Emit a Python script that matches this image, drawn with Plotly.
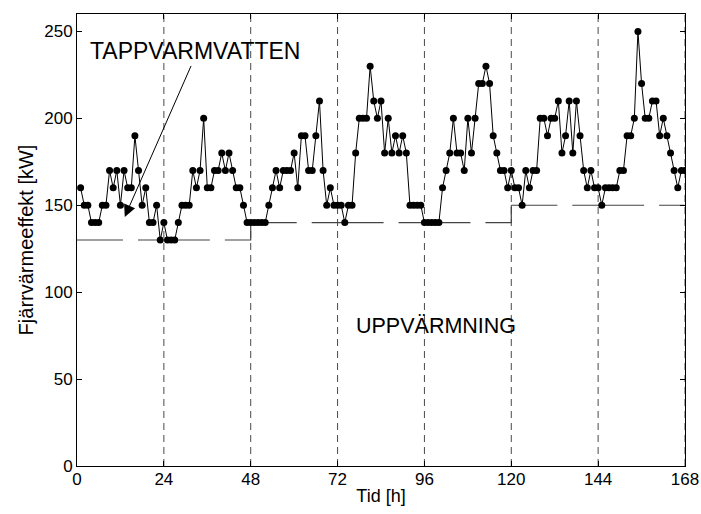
import plotly.graph_objects as go

# hourly district-heating power, hours 1..168
hours = list(range(1, 169))
power_kw = [
    160, 150, 150, 140, 140, 140, 150, 150, 170, 160, 170, 150, 170, 160, 160, 190,
    170, 150, 160, 140, 140, 150, 130, 140, 130, 130, 130, 140, 150, 150, 150, 170,
    160, 170, 200, 160, 160, 170, 170, 180, 170, 180, 170, 160, 160, 150, 140, 140,
    140, 140, 140, 140, 150, 160, 170, 160, 170, 170, 170, 180, 160, 190, 190, 170,
    170, 190, 210, 170, 150, 160, 150, 150, 150, 140, 150, 150, 180, 200, 200, 200,
    230, 210, 200, 210, 180, 200, 180, 190, 180, 190, 180, 150, 150, 150, 150, 140,
    140, 140, 140, 140, 160, 170, 180, 200, 180, 180, 170, 200, 180, 200, 220, 220,
    230, 220, 190, 180, 170, 170, 160, 170, 160, 160, 150, 170, 160, 170, 170, 200,
    200, 190, 200, 200, 210, 180, 190, 210, 180, 210, 190, 170, 160, 170, 160, 160,
    150, 160, 160, 160, 160, 170, 170, 190, 190, 200, 250, 220, 200, 200, 210, 210,
    190, 200, 190, 180, 170, 160, 170, 170,
]

day_bounds = [0, 24, 48, 72, 96, 120, 144, 168]
day_base = [130, 130, 140, 140, 140, 150, 150]  # space-heating base load per day

x_ticks = [0, 24, 48, 72, 96, 120, 144, 168]
y_ticks = [0, 50, 100, 150, 200, 250]

FONT = "Liberation Sans, Arial, sans-serif"

fig = go.Figure()

# vertical day separators
for d in day_bounds[1:]:
    fig.add_trace(go.Scatter(
        x=[d, d], y=[0, 260], mode="lines",
        line=dict(color="#4a4a4a", width=1, dash="7px,5px"),
        hoverinfo="skip", showlegend=False))

# base load (per day, dash pattern restarts each day)
for i, b in enumerate(day_base):
    xs = [day_bounds[i], day_bounds[i + 1]]
    ys = [b, b]
    if i + 1 < len(day_base) and day_base[i + 1] != b:
        xs.append(day_bounds[i + 1])
        ys.append(day_base[i + 1])
    fig.add_trace(go.Scatter(
        x=xs, y=ys, mode="lines",
        line=dict(color="#444444", width=1.2, dash="46px,15px"),
        hoverinfo="skip", showlegend=False))

# measured power
fig.add_trace(go.Scatter(
    x=hours, y=power_kw, mode="lines+markers",
    line=dict(color="black", width=1),
    marker=dict(color="black", size=7),
    showlegend=False))

fig.add_annotation(x=3.0, y=239, xref="x", yref="y", text="TAPPVARMVATTEN",
                   showarrow=False, xanchor="left", yanchor="middle",
                   font=dict(family=FONT, size=23, color="black"))
fig.add_annotation(x=13.2, y=143.3, xref="x", yref="y", ax=31.7, ay=231,
                   axref="x", ayref="y", text="", showarrow=True,
                   arrowhead=2, arrowsize=2.4, arrowwidth=1, arrowcolor="black")
fig.add_annotation(x=76.6, y=80.5, xref="x", yref="y", text="UPPVÄRMNING",
                   showarrow=False, xanchor="left", yanchor="middle",
                   font=dict(family=FONT, size=21.5, color="black"))

axis_common = dict(showgrid=False, zeroline=False, showline=True, linecolor="black",
                   linewidth=1, mirror="ticks", ticks="inside", ticklen=5,
                   tickcolor="black", automargin=False,
                   tickfont=dict(family=FONT, size=17, color="black"))

fig.update_xaxes(range=[0, 168], tickvals=x_ticks, ticktext=[str(t) for t in x_ticks],
                 ticklabelstandoff=-2,
                 title=dict(text="Tid [h]", font=dict(family=FONT, size=18, color="black"),
                            standoff=0),
                 **axis_common)
fig.update_yaxes(range=[0, 260], tickvals=y_ticks, ticktext=[str(t) for t in y_ticks],
                 title=dict(text="Fjärrvärmeeffekt [kW]",
                            font=dict(family=FONT, size=20, color="black"), standoff=5),
                 **axis_common)

fig.update_layout(width=701, height=514, margin=dict(l=77, r=16, t=14, b=48),
                  plot_bgcolor="white", paper_bgcolor="white",
                  font=dict(family=FONT, color="black"))

fig.write_html("out.html")
